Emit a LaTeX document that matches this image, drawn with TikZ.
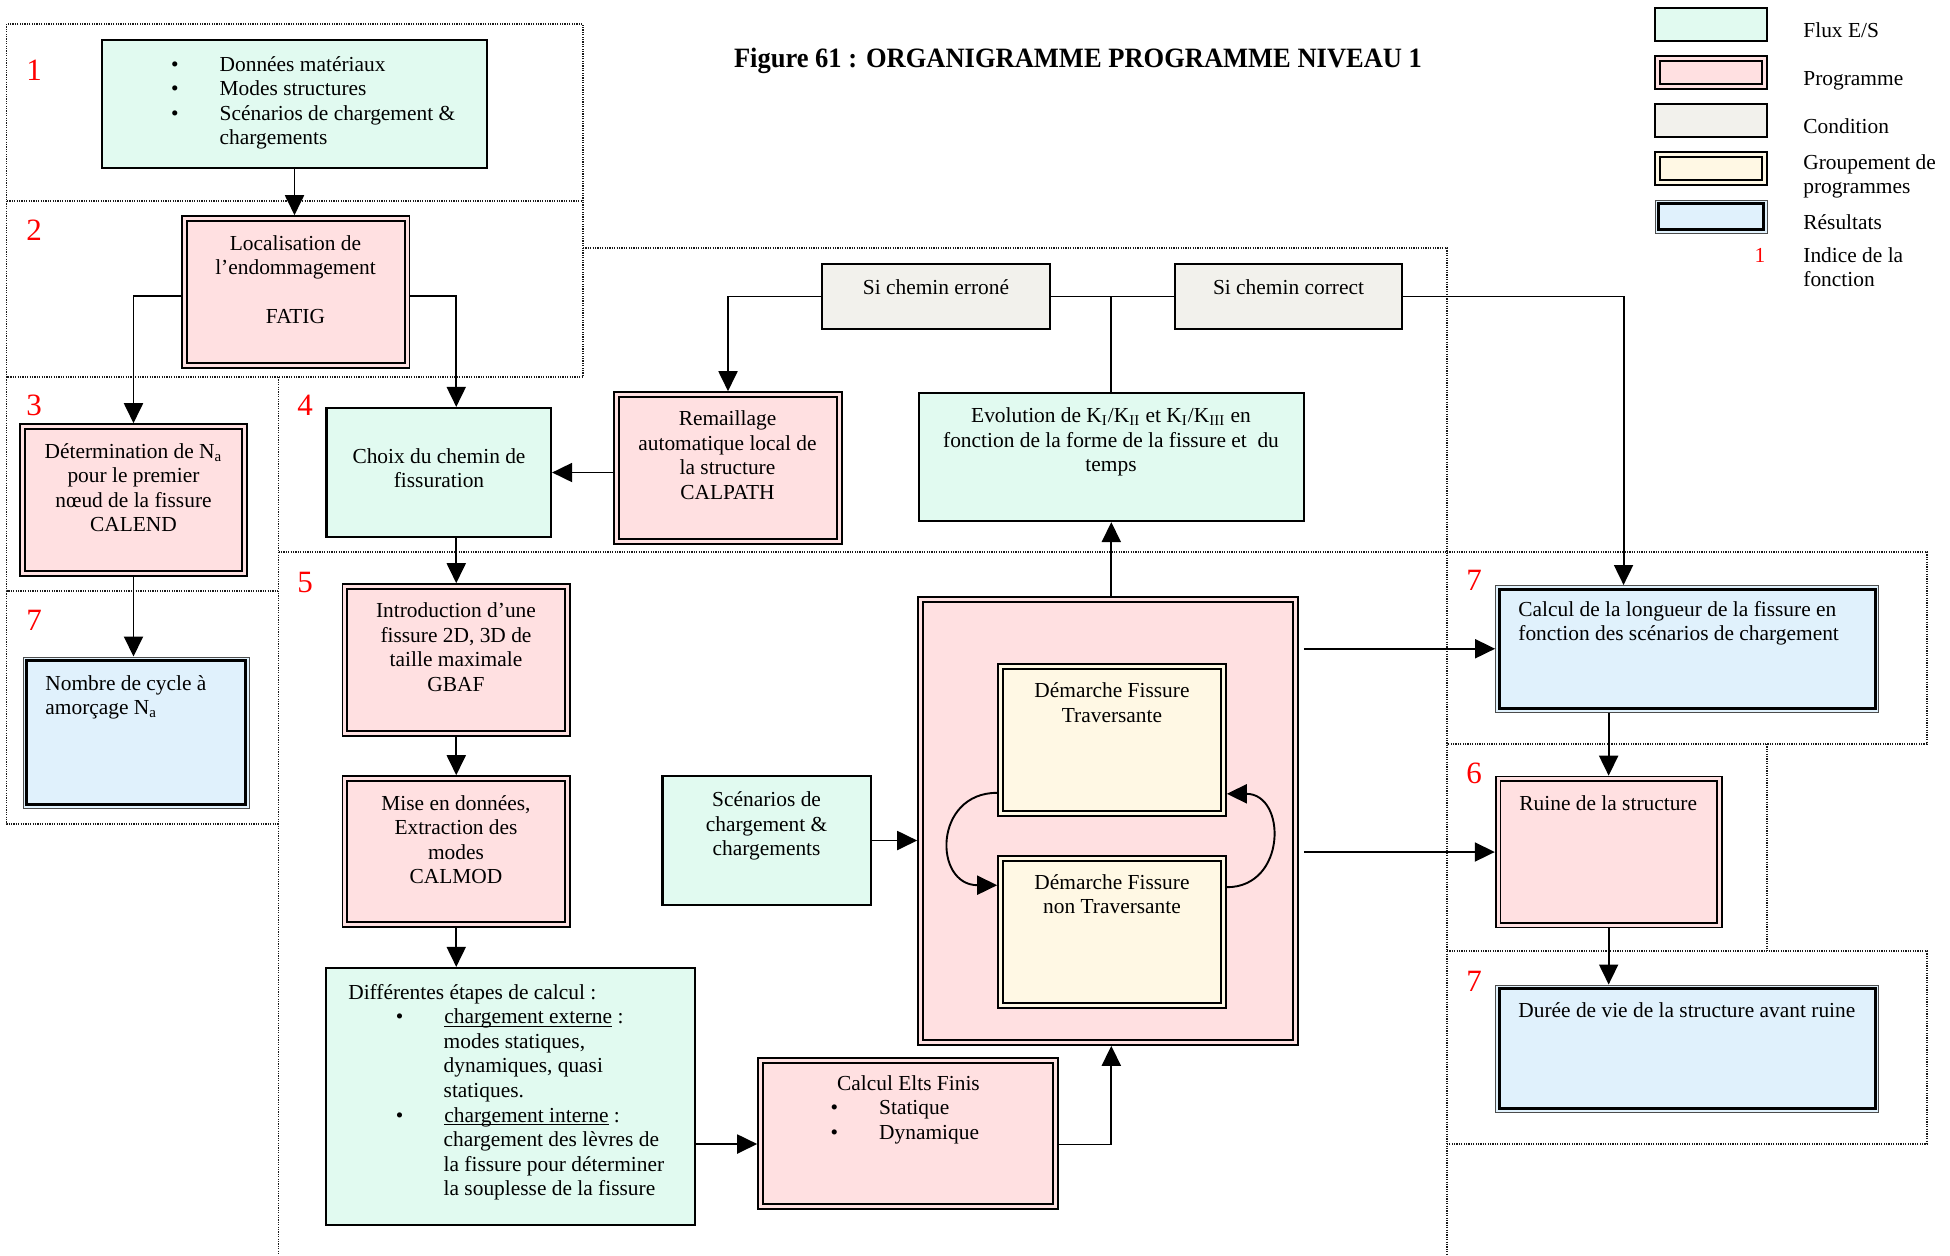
\documentclass[tikz,border=0pt]{standalone}
\usepackage{fontspec}
\setmainfont{Liberation Serif}
\usepackage{graphicx}
\usetikzlibrary{fit,calc,arrows.meta}
\definecolor{fluxfill}{HTML}{E1FAF0}
\definecolor{progfill}{HTML}{FFE0E1}
\definecolor{condfill}{HTML}{F2F1EC}
\definecolor{grpfill}{HTML}{FFF8E4}
\definecolor{resfill}{HTML}{E0F1FC}
\definecolor{numred}{HTML}{FF0000}
\newcommand\myfs{\fontsize{10.7}{12.3}\selectfont}
\newcommand\mybul{\makebox[24.25pt][l]{\textbullet}}
\newcommand\myul[1]{\setbox0\hbox{#1}\rlap{\rule[-1.4pt]{\wd0}{0.45pt}}\box0\relax}
\newcommand\resinner[1]{\draw[line width=1.5pt] ([shift={(4,4)}]#1.north west) rectangle ([shift={(-4,-4)}]#1.south east);}
\tikzset{
  flux/.style={draw=black, line width=1.1pt, fill=fluxfill, inner sep=0pt},
  cond/.style={draw=black, line width=1.1pt, fill=condfill, inner sep=0pt},
  prog/.style={draw=black, line width=0.85pt, double=progfill, double distance=1.5pt, fill=progfill, inner sep=0pt, outer sep=1.6pt},
  grp/.style={draw=black, line width=0.85pt, double=grpfill, double distance=1.5pt, fill=grpfill, inner sep=0pt, outer sep=1.6pt},
  res/.style={draw=black!70, line width=0.5pt, fill=resfill, inner sep=0pt},
  txt/.style={inner sep=0pt, font=\myfs},
  num/.style={inner sep=0pt, text=numred, font=\fontsize{15.5}{16}\selectfont},
  conn/.style={line width=0.95pt},
  arr/.style={line width=0.95pt, -{Triangle[length=10pt,width=9.5pt]}},
  region/.style={line width=0.55pt, dash pattern=on 0.6pt off 0.6pt, draw=black!90},
}
\begin{document}
\begin{tikzpicture}[x=0.5pt,y=-0.5pt]
\useasboundingbox (0,0) rectangle (1950,1255);
\fill[white] (0,0) rectangle (1950,1255);

% dotted regions (non-overlapping segments)
\draw[region] (6.5,24) rectangle (583,201);
\draw[region] (6.5,201) -- (6.5,377) -- (583,377) -- (583,201);
\draw[region] (6.5,377) -- (6.5,591) -- (278.6,591);
\draw[region] (6.5,591) -- (6.5,824) -- (278.6,824);
\draw[region] (583,248) -- (1447,248) -- (1447,1255);
\draw[region] (278.6,377) -- (278.6,1255);
\draw[region] (278.6,552) -- (1447,552);
\draw[region] (1447,552) -- (1927,552) -- (1927,744) -- (1447,744);
\draw[region] (1767,744) -- (1767,951);
\draw[region] (1447,951) -- (1927,951) -- (1927,1144) -- (1447,1144);

% title
\node[inner sep=0pt, anchor=base] (title) at (1078,67) {\resizebox{344pt}{\height}{\fontsize{14}{16}\selectfont\bfseries Figure 61 : ORGANIGRAMME PROGRAMME NIVEAU 1}};

% red indices
\node[num] (n1) at (34,70) {1};
\node[num] (n2) at (34,230) {2};
\node[num] (n3) at (34,405) {3};
\node[num] (n7a) at (34,620) {7};
\node[num] (n4) at (305,405) {4};
\node[num] (n5) at (305,582) {5};
\node[num] (n7b) at (1474,580) {7};
\node[num] (n6) at (1474,773) {6};
\node[num] (n7c) at (1474,981) {7};

% boxes
\node[flux, fit={(102,40)(487,168)}] (don) {};
\node[txt, anchor=base west] (don-t) at (170.8,71) {\begin{tabular}[t]{@{}l@{}}\mybul Données matériaux\\ \mybul Modes structures\\ \mybul Scénarios de chargement \&\\ \hspace*{24.25pt}chargements\end{tabular}};

\node[prog, fit={(184.4,218.4)(407.1,365.6)}] (fatig) {};
\node[txt, anchor=base] (fatig-t) at (295.5,250) {\begin{tabular}[t]{@{}c@{}}Localisation de\\ l’endommagement\\ \\ FATIG\end{tabular}};

\node[prog, fit={(22.4,426.4)(244.6,573.6)}] (det) {};
\node[txt, anchor=base] (det-t) at (133.5,458) {\begin{tabular}[t]{@{}c@{}}Détermination de N\textsubscript{a}\\ pour le premier\\ nœud de la fissure\\ CALEND\end{tabular}};

\node[res, fit={(23,657)(249,808)}] (nomb) {};
\resinner{nomb}
\node[txt, anchor=base west] (nomb-t) at (45,690) {\begin{tabular}[t]{@{}l@{}}Nombre de cycle à\\ amorçage N\textsubscript{a}\end{tabular}};

\node[flux, fit={(326.5,408)(551,537)}] (choix) {};
\node[txt, anchor=base] (choix-t) at (439,463) {\begin{tabular}[t]{@{}c@{}}Choix du chemin de\\ fissuration\end{tabular}};

\node[prog, fit={(616.4,394.4)(839.6,541.6)}] (rem) {};
\node[txt, anchor=base] (rem-t) at (727.5,425.5) {\begin{tabular}[t]{@{}c@{}}Remaillage\\ automatique local de\\ la structure\\ CALPATH\end{tabular}};

\node[cond, fit={(822,264)(1050,329)}] (err) {};
\node[txt, anchor=base] (err-t) at (936,294) {Si chemin erroné};
\node[cond, fit={(1174.6,264)(1402,329)}] (corr) {};
\node[txt, anchor=base] (corr-t) at (1288.5,294) {Si chemin correct};

\node[flux, fit={(919,393)(1303.6,521)}] (evo) {};
\node[txt, anchor=base] (evo-t) at (1111,422.5) {\begin{tabular}[t]{@{}c@{}}Evolution de K\textsubscript{I}/K\textsubscript{II} et K\textsubscript{I}/K\textsubscript{III} en\\ fonction de la forme de la fissure et\ \ du\\ temps\end{tabular}};

\node[prog, fit={(344.9,586.4)(567.6,733.6)}] (intro) {};
\node[txt, anchor=base] (intro-t) at (456,617.5) {\begin{tabular}[t]{@{}c@{}}Introduction d’une\\ fissure 2D, 3D de\\ taille maximale\\ GBAF\end{tabular}};

\node[prog, fit={(344.9,778.4)(567.6,924.6)}] (mise) {};
\node[txt, anchor=base] (mise-t) at (456,810) {\begin{tabular}[t]{@{}c@{}}Mise en données,\\ Extraction des\\ modes\\ CALMOD\end{tabular}};

\node[flux, fit={(326,968)(695,1225)}] (diff) {};
\node[txt, anchor=base west] (diff-t) at (347.9,999) {\begin{tabular}[t]{@{}l@{}}Différentes étapes de calcul :\\
\hspace*{23.8pt}\mybul\myul{chargement externe} :\\
\hspace*{47.7pt}modes statiques,\\
\hspace*{47.7pt}dynamiques, quasi\\
\hspace*{47.7pt}statiques.\\
\hspace*{23.8pt}\mybul\myul{chargement interne} :\\
\hspace*{47.7pt}chargement des lèvres de\\
\hspace*{47.7pt}la fissure pour déterminer\\
\hspace*{47.7pt}la souplesse de la fissure\end{tabular}};

\node[flux, fit={(662.5,776)(871,905)}] (scen) {};
\node[txt, anchor=base] (scen-t) at (766.6,806.5) {\begin{tabular}[t]{@{}c@{}}Scénarios de\\ chargement \&\\ chargements\end{tabular}};

\node[prog, fit={(920.4,599.4)(1295.6,1042.6)}] (big) {};
\node[grp, fit={(1000.4,666.4)(1223.6,813.6)}] (trav) {};
\node[txt, anchor=base] (trav-t) at (1112,697.5) {\begin{tabular}[t]{@{}c@{}}Démarche Fissure\\ Traversante\end{tabular}};
\node[grp, fit={(1000.4,858.4)(1223.6,1005.6)}] (ntrav) {};
\node[txt, anchor=base] (ntrav-t) at (1112,889) {\begin{tabular}[t]{@{}c@{}}Démarche Fissure\\ non Traversante\end{tabular}};

\node[prog, fit={(760.4,1060.4)(1055.6,1206.6)}] (cef) {};
\node[txt, anchor=base west] (cef-t) at (830.3,1090) {\begin{tabular}[t]{@{}l@{}}\hspace*{3.2pt}Calcul Elts Finis\\ \mybul Statique\\ \mybul Dynamique\end{tabular}};

\node[res, fit={(1495.6,585.5)(1878.7,712)}] (clong) {};
\resinner{clong}
\node[txt, anchor=base west] (clong-t) at (1518,616) {\begin{tabular}[t]{@{}l@{}}Calcul de la longueur de la fissure en\\ fonction des scénarios de chargement\end{tabular}};

\node[prog, fit={(1498,778.9)(1719.3,925.1)}] (ruine) {};
\node[txt, anchor=base west] (ruine-t) at (1519,810) {Ruine de la structure};

\node[res, fit={(1495.6,985)(1878.7,1112)}] (duree) {};
\resinner{duree}
\node[txt, anchor=base west] (duree-t) at (1518,1017) {Durée de vie de la structure avant ruine};

% legend
\node[flux, fit={(1655,8)(1767,41)}] (lg-flux) {};
\node[prog, fit={(1657.4,58.4)(1764.6,86.6)}] (lg-prog) {};
\node[cond, fit={(1655,104)(1767,137)}] (lg-cond) {};
\node[grp, fit={(1657.4,154.4)(1764.6,182.6)}] (lg-grp) {};
\node[res, fit={(1655,200)(1767,233)}] (lg-res) {};
\resinner{lg-res}
\node[txt, anchor=base west] (lg-flux-t) at (1803,37.5) {Flux E/S};
\node[txt, anchor=base west] (lg-prog-t) at (1803,85) {Programme};
\node[txt, anchor=base west] (lg-cond-t) at (1803,133) {Condition};
\node[txt, anchor=base west] (lg-grp-t) at (1803,169) {\begin{tabular}[t]{@{}l@{}}Groupement de\\ programmes\end{tabular}};
\node[txt, anchor=base west] (lg-res-t) at (1803,229.5) {Résultats};
\node[txt, anchor=base, text=numred] (lg-num) at (1760,262) {1};
\node[txt, anchor=base west] (lg-num-t) at (1803,262) {\begin{tabular}[t]{@{}l@{}}Indice de la\\ fonction\end{tabular}};

% connectors
\draw[arr] (don.south) -- (don.south |- fatig.north);
\draw[arr] ([yshift=-2pt]fatig.west) -| (det.north);
\draw[arr] ([yshift=-2pt]fatig.east) -| (choix.north -| intro.north);
\draw[arr] (choix.south -| intro.north) -- (intro.north);
\draw[arr] (intro.south) -- (mise.north);
\draw[arr] (mise.south) -- (mise.south |- diff.north);
\draw[arr] ([yshift=-5.25pt]cef.west -| diff.east) -- ([yshift=-5.25pt]cef.west);
\draw[arr] ([yshift=-5.5pt]cef.east) -| (big.south -| evo.south);
\draw[arr] (big.north -| evo.south) -- (evo.south);
\draw[conn] (evo.north) -- (evo.north |- err.east);
\draw[conn] (err.east) -- (corr.west);
\draw[arr] (err.west) -| (rem.north);
\draw[arr] (corr.east) -| ([xshift=-31.8pt]clong.north);
\draw[arr] (rem.west |- choix.east) -- (choix.east);
\draw[arr] (scen.east) -- (scen.east -| big.west);
\draw[arr] ([xshift=2.5pt]big.east |- clong.west) -- (clong.west);
\draw[arr] ([xshift=2.5pt]big.east |- ruine.west) -- (ruine.west);
\draw[arr] (ruine.north |- clong.south) -- (ruine.north);
\draw[arr] (ruine.south) -- (ruine.south |- duree.north);
\draw[arr] (det.south) -- (det.south |- nomb.north);
\draw[arr] ([yshift=12pt]trav.south west) .. controls +(-32pt,0pt) and +(-32pt,0pt) .. ([yshift=-15pt]ntrav.north west);
\draw[arr] ([yshift=-16pt]ntrav.north east) .. controls +(30pt,0pt) and +(30pt,0pt) .. ([yshift=11.5pt]trav.south east);
\end{tikzpicture}
\end{document}
